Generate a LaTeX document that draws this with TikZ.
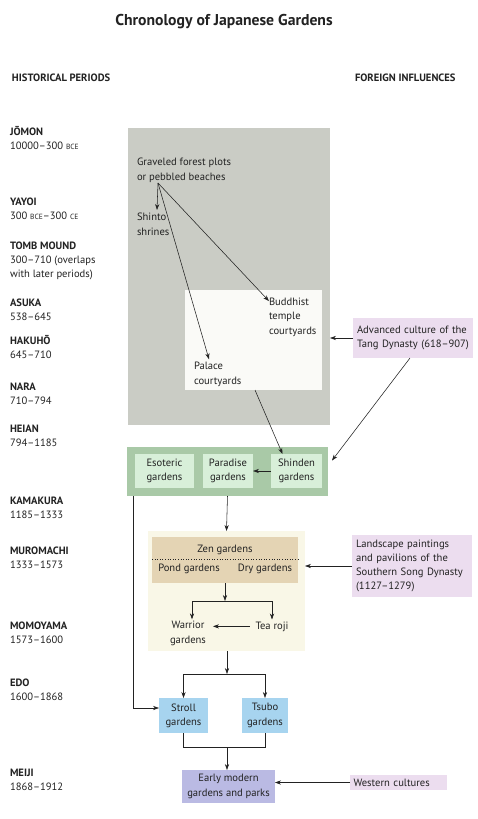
\documentclass[tikz,border=0pt]{standalone}
\usepackage{fontspec}
\setmainfont{PT Sans}
\usetikzlibrary{arrows.meta}
\definecolor{graybg}{HTML}{CACCC5}
\definecolor{courtbg}{HTML}{FAFAF7}
\definecolor{greenout}{HTML}{A9C9A7}
\definecolor{greenin}{HTML}{D8EFD9}
\definecolor{tanbg}{HTML}{E4D4B4}
\definecolor{creambg}{HTML}{F9F7E7}
\definecolor{pinkbg}{HTML}{ECDDEF}
\definecolor{bluebg}{HTML}{A7D4EF}
\definecolor{lavbg}{HTML}{BABAE3}
\definecolor{ink}{HTML}{222222}
\newcommand{\smc}[1]{{\fontsize{7.5}{7.5}\selectfont #1}}
\begin{document}
\begin{tikzpicture}[x=1pt,y=-1pt,
  every node/.style={inner sep=0pt, outer sep=0pt, text=ink},
  body/.style={font=\fontsize{10.6}{14.2}\selectfont, align=left},
  period/.style={anchor=base west, align=left, font=\fontsize{10.6}{14}\selectfont},
  head/.style={anchor=base west, font=\fontsize{10.6}{12}\selectfont\bfseries},
  boxa/.style={anchor=north west, font=\fontsize{10.6}{14.2}\selectfont, align=center},
  pinkbox/.style={anchor=north west, fill=pinkbg, font=\fontsize{10.6}{14.2}\selectfont, align=left},
  arr/.style={draw=ink, line width=0.55pt, -{Stealth[length=6pt,width=4.2pt]}},
  ln/.style={draw=ink, line width=0.55pt}]
\useasboundingbox (0,0) rectangle (478,819);
\fill[white] (0,0) rectangle (478,819);

% title and headers
\node[font=\fontsize{15.7}{18}\selectfont\bfseries] (title) at (224,22) {Chronology of Japanese Gardens};
\node[head] (hist) at (12,81) {HISTORICAL PERIODS};
\node[head] (foreign) at (355,81) {FOREIGN INFLUENCES};

% periods (base = last line)
\node[period] (jomon) at (10,149) {\textbf{JŌMON}\\10000–300 \smc{BCE}};
\node[period] (yayoi) at (10,219) {\textbf{YAYOI}\\300 \smc{BCE}–300 \smc{CE}};
\node[period] (tomb) at (10,277) {\textbf{TOMB MOUND}\\300–710 (overlaps\\with later periods)};
\node[period] (asuka) at (10,320) {\textbf{ASUKA}\\538–645};
\node[period] (hakuho) at (10,358) {\textbf{HAKUHŌ}\\645–710};
\node[period] (nara) at (10,404) {\textbf{NARA}\\710–794};
\node[period] (heianp) at (10,446) {\textbf{HEIAN}\\794–1185};
\node[period] (kamakura) at (10,518) {\textbf{KAMAKURA}\\1185–1333};
\node[period] (muromachi) at (10,568) {\textbf{MUROMACHI}\\1333–1573};
\node[period] (momoyama) at (10,643) {\textbf{MOMOYAMA}\\1573–1600};
\node[period] (edo) at (10,700) {\textbf{EDO}\\1600–1868};
\node[period] (meiji) at (10,790) {\textbf{MEIJI}\\1868–1912};

% ancient block
\node[anchor=north west, fill=graybg, minimum width=202pt, minimum height=297pt] (ancient) at (128,128) {};
\node[anchor=north west, fill=courtbg, minimum width=137pt, minimum height=100pt] (court) at (185,290) {};
\node[body, anchor=base west] (gravel) at (137,180) {Graveled forest plots\\or pebbled beaches};
\coordinate (src) at (158,183);
\node[body, anchor=base west] (shinto) at (137,235) {Shinto\\shrines};
\node[body, anchor=base west] (buddhist) at (269,334) {Buddhist\\temple\\courtyards};
\node[body, anchor=base west] (palace) at (194,384) {Palace\\courtyards};
\node[pinkbox, minimum width=120pt, minimum height=40pt, text width=112pt] (tang) at (353,318) {Advanced culture of the\\Tang Dynasty (618–907)};

\draw[arr] (src) -- (157,210);
\draw[arr] (src) -- ([yshift=-3pt]buddhist.north west);
\draw[arr] (src) -- ([xshift=15pt,yshift=3pt]palace.north west);
\draw[arr] (tang.west) -- (tang.west -| ancient.east);

% Heian block
\node[anchor=north west, fill=greenout, minimum width=201pt, minimum height=49pt] (heian) at (127,447) {};
\node[boxa, fill=greenin, minimum width=59pt, minimum height=34pt] (esoteric) at (135,454) {Esoteric\\gardens};
\node[boxa, fill=greenin, minimum width=50pt, minimum height=34pt] (paradise) at (203,454) {Paradise\\gardens};
\node[boxa, fill=greenin, minimum width=51pt, minimum height=34pt] (shinden) at (271,454) {Shinden\\gardens};
\draw[arr] (shinden.west) -- (paradise.east);
\draw[arr] ([xshift=1.5pt]court.south) -- ([xshift=-14pt]shinden.north);
\draw[arr] ([xshift=-3pt]tang.south) -- ([xshift=4pt,yshift=11pt]heian.east);

% Muromachi block
\node[anchor=north west, fill=creambg, minimum width=157pt, minimum height=120pt] (muro) at (148,531) {};
\node[anchor=north west, fill=tanbg, minimum width=146pt, minimum height=46pt] (zen) at (152,537) {};
\node[font=\fontsize{10.6}{14}\selectfont] (zentxt) at (225,550) {Zen gardens};
\draw[ink, line width=0.6pt, dotted] (zen.west |- 0,559) -- (zen.east |- 0,559);
\node[font=\fontsize{10.6}{14}\selectfont] (pond) at (189,569) {Pond gardens};
\node[font=\fontsize{10.6}{14}\selectfont] (dry) at (265,569) {Dry gardens};
\draw[arr] (heian.south) -- (muro.north);
\node[pinkbox, minimum width=120pt, minimum height=62pt, text width=112pt] (landscape) at (352,535) {Landscape paintings\\and pavilions of the\\Southern Song Dynasty\\(1127–1279)};
\draw[arr] (landscape.west) -- (landscape.west -| muro.east);

\node[body, anchor=base, align=center] (warrior) at (188,643) {Warrior\\gardens};
\node[body, anchor=base] (tea) at (272,629) {Tea roji};
\coordinate (split1) at (225,601);
\draw[arr] (zen.south) -- (split1);
\draw[arr] (split1) -| ([xshift=4pt,yshift=2pt]warrior.north);
\draw[arr] (split1) -| ([yshift=2pt]tea.north);
\draw[arr, shorten <=6pt, shorten >=7pt] (tea.west) -- (tea.west -| warrior.east);

% Edo block
\node[boxa, fill=bluebg, minimum width=49pt, minimum height=35pt] (stroll) at (159,698) {Stroll\\gardens};
\node[boxa, fill=bluebg, minimum width=46pt, minimum height=35pt] (tsubo) at (242,698) {Tsubo\\gardens};
\coordinate (split2) at (227,674);
\draw[arr] (muro.south -| split2) -- (split2);
\draw[arr] (split2) -| (stroll.north);
\draw[arr] (split2) -| (tsubo.north);
\draw[arr] ([xshift=6pt]heian.south west) |- ([yshift=7.5pt]stroll.west);

% Meiji block
\node[boxa, fill=lavbg, minimum width=93pt, minimum height=33pt] (early) at (182,770) {Early modern\\gardens and parks};
\coordinate (join) at (227,747);
\draw[ln] (stroll.south) |- (tsubo.south |- join) -- (tsubo.south);
\draw[arr] (join) -- (join |- early.north);
\node[pinkbox, minimum width=97pt, minimum height=15pt, text width=90pt] (western) at (350,775) {Western cultures};
\draw[arr] (western.west) -- (western.west -| early.east);
\end{tikzpicture}
\end{document}
